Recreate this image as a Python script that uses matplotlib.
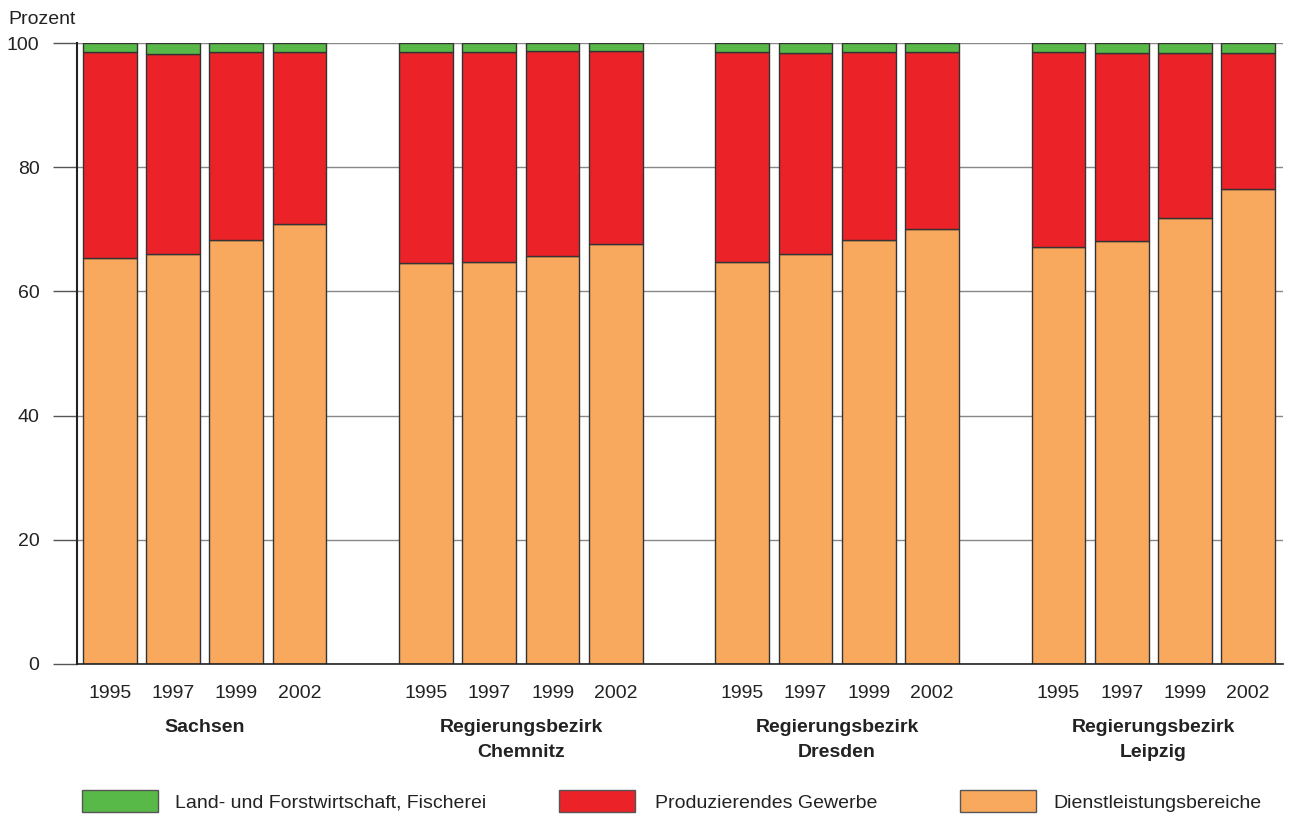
import numpy as np
import matplotlib.pyplot as plt

years = ["1995", "1997", "1999", "2002"]
regions = ["Sachsen", "Regierungsbezirk\nChemnitz", "Regierungsbezirk\nDresden", "Regierungsbezirk\nLeipzig"]

# shares in percent, one row per region, columns = years
dienst = np.array([
    [65.3, 66.1, 68.3, 70.9],
    [64.5, 64.8, 65.7, 67.7],
    [64.8, 66.1, 68.2, 70.1],
    [67.1, 68.1, 71.8, 76.5],
])
land = np.array([
    [1.5, 1.7, 1.4, 1.4],
    [1.4, 1.5, 1.3, 1.3],
    [1.5, 1.6, 1.5, 1.4],
    [1.5, 1.6, 1.6, 1.6],
])
prod = 100 - dienst - land

c_land = "#59b948"
c_prod = "#ec2229"
c_dienst = "#f8a95e"
edge = "#333333"

plt.rcParams['font.family'] = ['Liberation Sans', 'DejaVu Sans']

fig = plt.figure(figsize=(12.93, 8.16), dpi=100)
ax = fig.add_axes([77 / 1293, 1 - 664 / 816, (1283 - 77) / 1293, (664 - 43) / 816])

width = 0.85
to_data = lambda py: (664 - py) / 6.21  # pixel row -> data y
for g in range(len(regions)):
    x = np.arange(len(years)) + g * 5
    ax.bar(x, dienst[g], width, color=c_dienst, edgecolor=edge, linewidth=1, zorder=3)
    ax.bar(x, prod[g], width, bottom=dienst[g], color=c_prod, edgecolor=edge, linewidth=1, zorder=3)
    ax.bar(x, land[g], width, bottom=dienst[g] + prod[g], color=c_land, edgecolor=edge, linewidth=1, zorder=3)
    for i, yr in enumerate(years):
        ax.text(x[i], to_data(693), yr, ha="center", va="center", fontsize=14, color="#222222")
    ax.text(x.mean(), to_data(719), regions[g], ha="center", va="top", fontsize=14,
            fontweight="bold", linespacing=1.65, color="#222222")

ax.set_xlim(-0.52, 18.55)
ax.set_ylim(0, 100)
ax.set_yticks(np.arange(0, 101, 20))
ax.tick_params(axis="y", length=17, width=1, color="#555555", labelsize=14, pad=10,
               labelcolor="#222222")
ax.set_xticks([])
ax.yaxis.grid(True, color="#888888", linewidth=1, zorder=0)
for s in ["top", "right"]:
    ax.spines[s].set_visible(False)
ax.spines["left"].set_color("#222222")
ax.spines["left"].set_linewidth(1.5)
ax.spines["bottom"].set_color("#222222")
ax.spines["bottom"].set_linewidth(1.2)
ax.spines["bottom"].set_zorder(4)

fig.text(8 / 1293, 1 - 19 / 816, "Prozent", ha="left", va="center", fontsize=14, color="#222222")

# legend
items = [("Land- und Forstwirtschaft, Fischerei", c_land, 82, 175),
         ("Produzierendes Gewerbe", c_prod, 559, 655),
         ("Dienstleistungsbereiche", c_dienst, 960, 1053)]
for label, col, px, tx in items:
    fig.patches.append(plt.Rectangle((px / 1293, 1 - 812 / 816), 76 / 1293, 22 / 816,
                                     transform=fig.transFigure, facecolor=col,
                                     edgecolor="#555555", linewidth=1))
    fig.text(tx / 1293, 1 - 803 / 816, label, ha="left", va="center", fontsize=14, color="#222222")

fig.savefig("out.png", dpi=100)
